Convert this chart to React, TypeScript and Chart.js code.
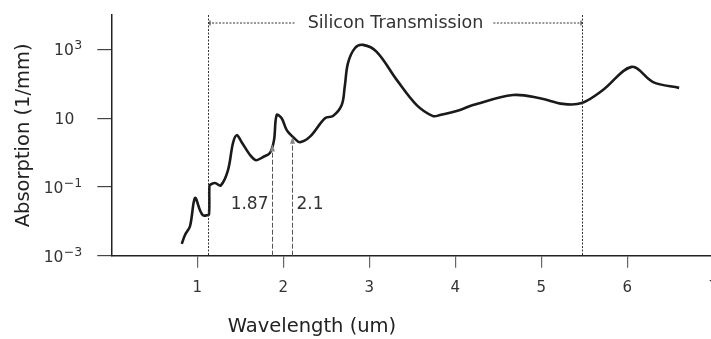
import React, { useEffect, useRef } from "react";
import { Chart, registerables } from "chart.js";

Chart.register(...registerables);

// Absorption spectrum (wavelength in um, absorption in 1/mm)
const wavelength = [
  0.819, 0.857, 0.915, 0.973, 1.031, 1.066, 1.113, 1.136, 1.14, 1.148,
  1.206, 1.272, 1.357, 1.415, 1.458, 1.516, 1.613, 1.683, 1.764, 1.845,
  1.892, 1.923, 1.981, 2.04, 2.136, 2.194, 2.31, 2.485, 2.578, 2.679,
  2.715, 2.752, 2.834, 2.927, 3.086, 3.319, 3.551, 3.741, 3.822, 4.055,
  4.206, 4.671, 4.985, 5.252, 5.47, 5.717, 6.051, 6.3, 6.603,
];
const absorption = [
  0.0022, 0.004, 0.0072, 0.048, 0.021, 0.015, 0.015, 0.016, 0.1, 0.115,
  0.13, 0.11, 0.31, 1.9, 3.2, 2.0, 0.85, 0.6, 0.74, 0.98,
  2.3, 12.3, 10, 4.5, 2.5, 2.0, 2.9, 10, 11.5, 24,
  85, 400, 1100, 1350, 850, 130, 24, 11.5, 12.3, 17.4,
  24, 47, 38, 26, 27.5, 66, 310, 112, 76,
];

// Axis ticks
const xTicks = [1, 2, 3, 4, 5, 6, 7];
const yTicks = [1e-3, 1e-1, 10, 1e3];
const yTickBase = ["10", "10", "10", "10"];
const yTickExponent = ["\u22123", "\u22121", "", "3"];

// Silicon transmission window (um)
const transmissionBand = [1.13, 5.47];
const transmissionLabel = "Silicon Transmission";

// Marked wavelengths with the absorption where each arrow ends
const markerWavelengths = [1.87, 2.1];
const markerLabels = ["1.87", "2.1"];
const markerTips = [1.7, 2.9];
const markerLabelLevel = 0.03;

const xTitle = "Wavelength (um)";
const yTitle = "Absorption (1/mm)";

const FONT = "DejaVu Sans";
const W = 740;
const H = 339;

const annotations = {
  id: "spectrumAnnotations",
  afterDatasetsDraw(chart: any) {
    const { ctx, chartArea, scales } = chart;
    const xs = scales.x;
    const ys = scales.y;
    ctx.save();

    // Log-axis tick labels: base with raised exponent
    ctx.fillStyle = "#333";
    ctx.textBaseline = "alphabetic";
    ctx.textAlign = "right";
    const labelRight = ys.right - 29;
    yTicks.forEach((v, i) => {
      const py = ys.getPixelForValue(v);
      const exp = yTickExponent[i];
      if (exp) {
        ctx.font = `12.5px "${FONT}"`;
        ctx.fillText(exp, labelRight, py + 0);
        const ew = ctx.measureText(exp).width;
        ctx.font = `15.5px "${FONT}"`;
        ctx.fillText(yTickBase[i], labelRight - ew - 0.5, py + 6);
      } else {
        ctx.font = `15.5px "${FONT}"`;
        ctx.fillText(yTickBase[i], labelRight - 8, py + 6);
      }
    });

    // Transmission window: vertical dotted bounds
    ctx.strokeStyle = "#333";
    ctx.lineWidth = 1;
    ctx.setLineDash([2, 1.5]);
    const bandPx = transmissionBand.map((v) => Math.round(xs.getPixelForValue(v)) + 0.5);
    bandPx.forEach((px) => {
      ctx.beginPath();
      ctx.moveTo(px, chartArea.top);
      ctx.lineTo(px, chartArea.bottom);
      ctx.stroke();
    });

    // Horizontal span line with centred label
    const yBand = chartArea.top + 8;
    ctx.font = `17.5px "${FONT}"`;
    const midPx = (bandPx[0] + bandPx[1]) / 2;
    const tw = ctx.measureText(transmissionLabel).width;
    ctx.beginPath();
    ctx.moveTo(bandPx[0], yBand);
    ctx.lineTo(midPx - tw / 2 - 12, yBand);
    ctx.moveTo(midPx + tw / 2 + 10, yBand);
    ctx.lineTo(bandPx[1], yBand);
    ctx.stroke();
    ctx.setLineDash([]);
    ctx.beginPath();
    ctx.moveTo(bandPx[0] + 1.5, yBand - 2.5);
    ctx.lineTo(bandPx[0] + 1.5, yBand + 2.5);
    ctx.moveTo(bandPx[1] - 1.5, yBand - 2.5);
    ctx.lineTo(bandPx[1] - 1.5, yBand + 2.5);
    ctx.stroke();
    ctx.fillStyle = "#333";
    ctx.textAlign = "center";
    ctx.textBaseline = "middle";
    ctx.fillText(transmissionLabel, midPx, yBand + 0.5);

    // Dashed wavelength markers with arrowheads
    markerWavelengths.forEach((v, i) => {
      const px = Math.round(xs.getPixelForValue(v)) + 0.5;
      const tip = ys.getPixelForValue(markerTips[i]);
      ctx.strokeStyle = "#555";
      ctx.lineWidth = 1;
      ctx.setLineDash([5, 2]);
      ctx.beginPath();
      ctx.moveTo(px, chartArea.bottom);
      ctx.lineTo(px, tip + 5);
      ctx.stroke();
      ctx.setLineDash([]);
      ctx.fillStyle = "#888";
      ctx.beginPath();
      ctx.moveTo(px, tip);
      ctx.lineTo(px - 2.5, tip + 7);
      ctx.lineTo(px + 2.5, tip + 7);
      ctx.closePath();
      ctx.fill();

      ctx.font = `17px "${FONT}"`;
      ctx.fillStyle = "#333";
      ctx.textBaseline = "middle";
      const ly = ys.getPixelForValue(markerLabelLevel);
      if (i === 0) {
        ctx.textAlign = "right";
        ctx.fillText(markerLabels[i], px - 4, ly);
      } else {
        ctx.textAlign = "left";
        ctx.fillText(markerLabels[i], px + 4, ly);
      }
    });

    // Horizontal axis title
    ctx.font = `19.5px "${FONT}"`;
    ctx.fillStyle = "#222";
    ctx.textAlign = "center";
    ctx.textBaseline = "middle";
    ctx.fillText(xTitle, 312, 327);

    ctx.restore();
  },
};

export default function App() {
  const canvasRef = useRef<HTMLCanvasElement | null>(null);

  useEffect(() => {
    document.body.style.margin = "0";
    document.body.style.overflow = "hidden";
    const canvas = canvasRef.current;
    if (!canvas) return;

    const points = wavelength.map((x, i) => ({ x, y: absorption[i] }));

    const chart = new Chart(canvas, {
      type: "line",
      data: {
        datasets: [
          {
            data: points,
            borderColor: "#1a1a1a",
            borderWidth: 2.6,
            pointRadius: 0,
            tension: 0.35,
            fill: false,
          },
        ],
      },
      options: {
        responsive: false,
        animation: false,
        events: [],
        layout: { padding: { left: 0, top: 15, right: W - 713.3, bottom: 0 } },
        plugins: { legend: { display: false }, tooltip: { enabled: false } },
        scales: {
          x: {
            type: "linear",
            min: 0,
            max: 7,
            afterBuildTicks: (s: any) => {
              s.ticks = xTicks.map((value) => ({ value }));
            },
            afterFit: (s: any) => {
              s.height = H - 255.7;
              s.paddingLeft = 0;
              s.paddingRight = 0;
            },
            grid: {
              drawOnChartArea: false,
              drawTicks: true,
              tickLength: 12,
              color: "#666",
              lineWidth: 1.2,
            },
            border: { display: true, color: "#222", width: 1.5 },
            ticks: {
              padding: 11,
              maxRotation: 0,
              autoSkip: false,
              color: "#333",
              font: { family: FONT, size: 15 },
              callback: (v: any) => String(v),
            },
          },
          y: {
            type: "logarithmic",
            min: 1e-3,
            max: 1e4,
            afterBuildTicks: (s: any) => {
              s.ticks = yTicks.map((value) => ({ value }));
            },
            afterFit: (s: any) => {
              s.width = 111.3;
              s.paddingTop = 0;
              s.paddingBottom = 0;
            },
            grid: {
              drawOnChartArea: false,
              drawTicks: true,
              tickLength: 14,
              color: "#444",
              lineWidth: 1.2,
            },
            border: { display: true, color: "#222", width: 1.5 },
            ticks: { display: false },
            title: {
              display: true,
              text: yTitle,
              color: "#222",
              font: { family: FONT, size: 19.5 },
              padding: { top: 12, bottom: 0 },
            },
          },
        },
      },
      plugins: [annotations],
    });

    return () => chart.destroy();
  }, []);

  return (
    <div style={{ position: "fixed", left: 0, top: 0, width: W, height: H, background: "#fff" }}>
      <canvas ref={canvasRef} width={W} height={H} style={{ width: W, height: H, display: "block" }} />
    </div>
  );
}
